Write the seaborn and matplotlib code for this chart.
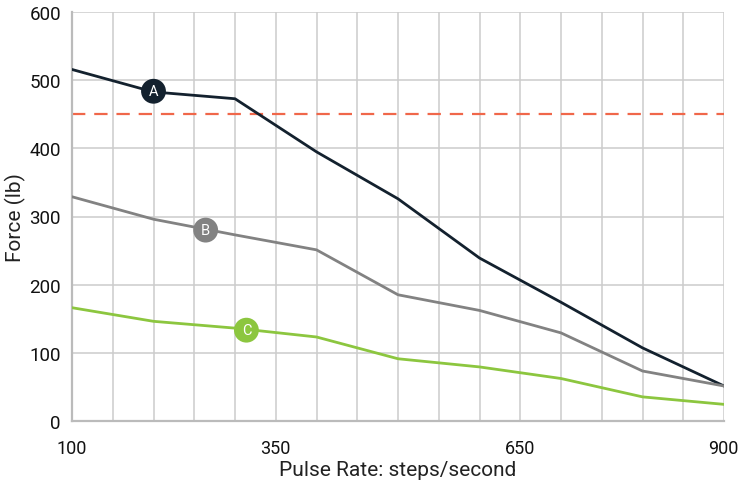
import numpy as np
import pandas as pd
import matplotlib
matplotlib.use("Agg")
import matplotlib.pyplot as plt
import matplotlib.transforms as mtransforms
import seaborn as sns

pulse_rate = [100, 200, 300, 400, 500, 600, 700, 800, 900]
force_a = [516, 483, 473, 395, 326, 239, 174, 107, 51]
force_b = [329, 296, 273, 251, 185, 162, 129, 73, 51]
force_c = [166, 146, 136, 123, 91, 79, 62, 35, 24]
series_names = ["A", "B", "C"]
series_colors = ["#13212e", "#828282", "#8cc63f"]
label_pos_x = [200, 264, 314]
label_pos_y = [484, 280, 133]
limit_force = 450
x_ticks = [100, 350, 650, 900]
y_ticks = [0, 100, 200, 300, 400, 500, 600]

df = pd.DataFrame({
    "Pulse Rate": pulse_rate * 3,
    "Force": force_a + force_b + force_c,
    "Series": sum([[n] * len(pulse_rate) for n in series_names], []),
})

sns.set_style("white")
plt.rcParams["font.family"] = ["Roboto", "DejaVu Sans"]

fig = plt.figure(figsize=(7.38, 4.85), dpi=100)
ax = fig.add_axes([72 / 738, 1 - 421.7 / 485, (724 - 72) / 738, (421.7 - 13.3) / 485])

ax.set_xlim(100, 900)
ax.set_ylim(0, 600)
ax.set_xticks(np.arange(100, 901, 50), minor=True)
ax.set_xticks(x_ticks)
ax.set_yticks(y_ticks)
ax.grid(True, which="both", axis="x", color="#cccccc", linewidth=1.1)
ax.grid(True, which="major", axis="y", color="#cccccc", linewidth=1.1)
ax.set_axisbelow(True)

ax.axhline(limit_force, color="#f0674a", linestyle=(0, (6, 4)), linewidth=1.6, zorder=2)

sns.lineplot(data=df, x="Pulse Rate", y="Force", hue="Series",
             palette=dict(zip(series_names, series_colors)),
             linewidth=2.0, legend=False, ax=ax, zorder=3)

for name, col, lx, ly in zip(series_names, series_colors, label_pos_x, label_pos_y):
    ax.scatter([lx], [ly], s=320, color=col, zorder=5, edgecolors="none")
    ax.text(lx, ly, name, color="white", ha="center", va="center",
            fontsize=10.5, zorder=6)

for side in ["top", "right"]:
    ax.spines[side].set_visible(False)
for side in ["left", "bottom"]:
    ax.spines[side].set_color("#bbbbbb")
    ax.spines[side].set_linewidth(1.6)

ax.tick_params(axis="x", which="both", length=0, pad=13.5, labelsize=13, labelcolor="#111111")
ax.tick_params(axis="y", length=0, pad=8, labelsize=13.5, labelcolor="#111111")

ax.set_xlabel("Pulse Rate: steps/second", fontsize=15, color="#222222")
ax.xaxis.set_label_coords(0.5, -0.097)
ax.set_ylabel("Force (lb)", fontsize=15, color="#222222")
ax.yaxis.set_label_coords(-0.07, 0.5)

fig.canvas.draw()
for lbl in ax.get_xticklabels():
    if lbl.get_text() == "900":
        lbl.set_transform(lbl.get_transform() + mtransforms.ScaledTranslation(-1 / 100, 0, fig.dpi_scale_trans))

fig.savefig("out.png", dpi=100)
